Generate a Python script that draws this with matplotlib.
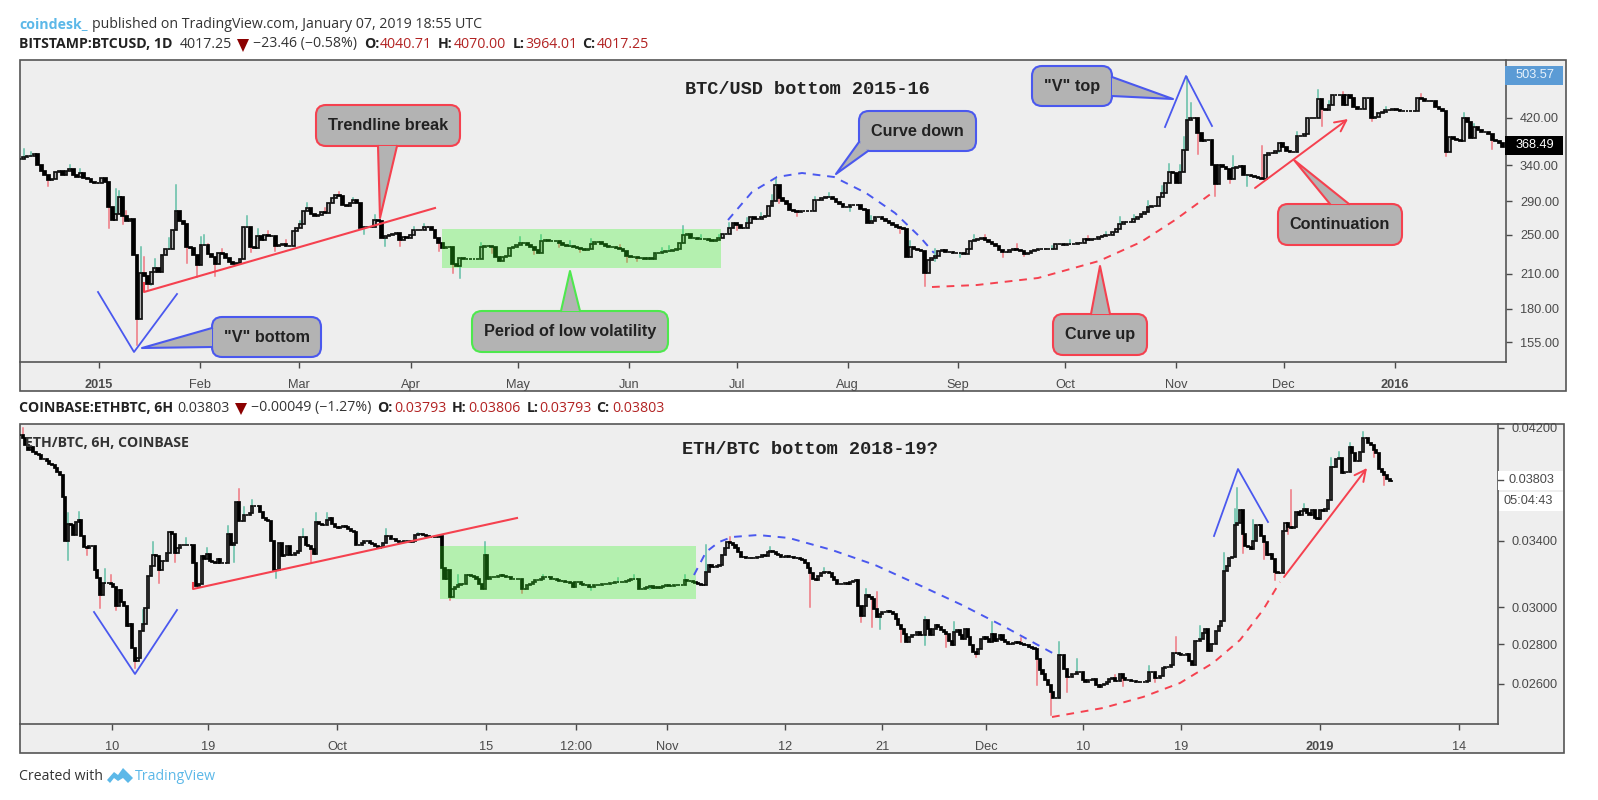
import numpy as np
import matplotlib
matplotlib.use("Agg")
import matplotlib.pyplot as plt
from matplotlib.patches import FancyBboxPatch, Polygon, Rectangle
from matplotlib.ticker import NullLocator

plt.rcParams['font.family'] = ['Open Sans', 'DejaVu Sans']

W, H = 1598, 800

# BTC/USD daily closes, Dec 2014 - Jan 2016 (each bar opens at the previous close)
btc_close = [
    349, 352, 355, 355, 357, 340, 332, 325, 318, 320,
    330, 331, 326, 332, 334, 326, 323, 329, 322, 320,
    316, 315, 314, 322, 316, 283, 267, 274, 296, 272,
    266, 268, 228, 172, 211, 208, 201, 212, 216, 212,
    228, 235, 235, 255, 277, 265, 262, 237, 236, 228,
    218, 239, 239, 229, 226, 219, 230, 229, 225, 221,
    219, 220, 224, 258, 259, 237, 236, 248, 244, 249,
    248, 248, 238, 239, 240, 238, 238, 254, 257, 262,
    277, 281, 274, 272, 273, 276, 275, 288, 294, 298,
    297, 285, 284, 287, 291, 287, 257, 258, 258, 259,
    267, 266, 246, 248, 250, 251, 252, 244, 247, 246,
    250, 255, 255, 255, 259, 258, 255, 246, 241, 236,
    237, 237, 219, 217, 225, 224, 224, 224, 224, 224,
    237, 238, 238, 237, 226, 222, 226, 227, 236, 237,
    239, 241, 241, 239, 237, 233, 230, 243, 244, 243,
    243, 243, 241, 239, 238, 238, 237, 236, 234, 233,
    235, 240, 242, 242, 240, 238, 237, 237, 236, 235,
    232, 227, 226, 226, 225, 225, 224, 225, 224, 230,
    230, 231, 232, 232, 233, 235, 241, 250, 251, 246,
    246, 245, 245, 245, 244, 243, 244, 246, 251, 251,
    257, 263, 261, 257, 257, 263, 270, 268, 268, 270,
    271, 284, 290, 311, 294, 290, 286, 279, 277, 276,
    277, 277, 277, 277, 291, 291, 294, 296, 296, 293,
    289, 286, 283, 283, 285, 285, 285, 280, 279, 263,
    265, 270, 270, 268, 265, 263, 261, 258, 257, 256,
    226, 237, 235, 233, 232, 211, 223, 225, 227, 232,
    233, 231, 231, 230, 230, 230, 229, 235, 243, 244,
    245, 246, 244, 242, 240, 238, 233, 231, 231, 233,
    235, 233, 232, 229, 230, 232, 233, 234, 235, 234,
    234, 234, 240, 240, 239, 240, 240, 240, 241, 241,
    245, 244, 245, 245, 247, 248, 249, 250, 253, 256,
    262, 264, 264, 264, 268, 270, 274, 276, 282, 284,
    284, 295, 301, 314, 330, 328, 314, 330, 364, 415,
    419, 419, 393, 378, 381, 381, 340, 313, 340, 338,
    335, 320, 336, 338, 339, 325, 325, 324, 323, 322,
    320, 356, 359, 359, 362, 376, 368, 362, 361, 361,
    388, 388, 391, 419, 419, 419, 456, 436, 434, 444,
    464, 464, 464, 444, 464, 458, 441, 436, 437, 458,
    458, 419, 422, 428, 431, 434, 434, 436, 434, 433,
    433, 433, 433, 433, 458, 456, 453, 453, 452, 441,
    436, 433, 360, 386, 382, 380, 379, 419, 412, 384,
    403, 397, 394, 394, 391, 380, 378, 376, 368.49,
]
btc_high = {
    1: 366, 3: 360, 14: 340, 17: 335, 27: 306, 28: 304, 30: 277, 34: 237,
    35: 226, 38: 224, 42: 246, 44: 312, 47: 252, 51: 247, 52: 249, 53: 240,
    57: 235, 64: 272, 67: 256, 70: 254, 75: 244, 79: 265, 81: 288, 86: 281,
    90: 302, 94: 294, 100: 273, 111: 258, 114: 262, 122: 229, 130: 241,
    141: 247, 147: 249, 155: 243, 161: 245, 169: 239, 181: 236, 183: 238,
    187: 260, 192: 250, 197: 250, 200: 263, 205: 269, 209: 275, 212: 298,
    213: 320, 224: 296, 228: 300, 240: 272, 251: 243, 258: 235, 269: 250,
    272: 249, 281: 240, 291: 238, 296: 244, 301: 248, 306: 253, 310: 270,
    314: 273, 318: 290, 322: 310, 324: 342, 327: 340, 328: 385, 329: 503.57,
    330: 448, 332: 405, 337: 340, 342: 355, 350: 370, 360: 395, 366: 474,
    369: 452, 373: 470, 376: 448, 385: 440, 395: 466, 407: 428, 410: 408,
}
btc_low = {
    8: 310, 25: 257, 29: 262, 33: 153, 36: 196, 37: 200, 47: 220, 50: 207,
    55: 208, 65: 231, 72: 232, 97: 251, 103: 238, 107: 238, 118: 232, 122: 211,
    124: 206, 133: 230, 145: 229, 152: 237, 158: 231, 171: 221, 174: 222,
    187: 243, 202: 255, 214: 288, 219: 272, 234: 278, 248: 252, 255: 199,
    258: 222, 265: 226, 277: 226, 283: 227, 332: 357, 337: 297, 341: 315,
    346: 310, 355: 360, 367: 404, 381: 413, 402: 354, 415: 366,
}
btc_yticks = [155, 180, 210, 250, 290, 340, 420]
btc_xticks = [22.3, 50.7, 78.7, 110.1, 140.4, 171.8, 202, 233.3, 264.4, 294.7, 325.9, 356.2, 387.5]
btc_xlabels = ['2015', 'Feb', 'Mar', 'Apr', 'May', 'Jun', 'Jul', 'Aug', 'Sep', 'Oct', 'Nov', 'Dec', '2016']

# ETH/BTC 6H closes, Sep 2018 - Jan 2019
eth_close = [
    .04142, .04116, .04066, .04027, .04052, .04014, .04001, .03989, .03963, .03963,
    .03945, .03925, .03920, .03895, .03867, .03845, .03692, .03400, .03510, .03503,
    .03435, .03522, .03534, .03430, .03358, .03352, .03367, .03367, .03220, .03170,
    .03070, .03140, .03140, .03140, .03134, .03118, .03010, .03100, .03030, .03010,
    .02897, .02910, .02782, .02712, .02728, .02872, .02907, .02998, .03180, .03243,
    .03312, .03305, .03220, .03272, .03272, .03324, .03452, .03441, .03324, .03355,
    .03369, .03369, .03373, .03375, .03375, .03262, .03122, .03134, .03305, .03283,
    .03316, .03272, .03268, .03262, .03283, .03262, .03262, .03262, .03441, .03375,
    .03385, .03652, .03526, .03526, .03570, .03570, .03578, .03624, .03630, .03630,
    .03585, .03550, .03532, .03526, .03400, .03220, .03220, .03385, .03305, .03310,
    .03367, .03310, .03310, .03324, .03335, .03421, .03421, .03375, .03367, .03345,
    .03318, .03522, .03510, .03499, .03499, .03533, .03545, .03510, .03489, .03478,
    .03489, .03495, .03489, .03472, .03459, .03452, .03375, .03375, .03385, .03400,
    .03400, .03385, .03380, .03367, .03352, .03358, .03385, .03430, .03430, .03413,
    .03410, .03400, .03392, .03392, .03400, .03400, .03392, .03400, .03436, .03441,
    .03441, .03436, .03430, .03422, .03422, .03420, .03421, .03430, .03230, .03167,
    .03218, .03058, .03107, .03117, .03127, .03133, .03137, .03190, .03186, .03180,
    .03173, .03167, .03137, .03107, .03309, .03167, .03173, .03176, .03176, .03180,
    .03186, .03182, .03176, .03176, .03167, .03167, .03167, .03167, .03107, .03107,
    .03127, .03137, .03146, .03156, .03156, .03167, .03173, .03176, .03173, .03167,
    .03162, .03156, .03152, .03150, .03146, .03146, .03141, .03117, .03146, .03146,
    .03137, .03131, .03127, .03117, .03117, .03127, .03127, .03131, .03137, .03137,
    .03137, .03141, .03142, .03146, .03146, .03146, .03146, .03152, .03156, .03162,
    .03167, .03167, .03107, .03107, .03111, .03117, .03121, .03111, .03117, .03111,
    .03117, .03121, .03127, .03123, .03123, .03127, .03127, .03127, .03127, .03156,
    .03152, .03150, .03146, .03142, .03133, .03131, .03127, .03207, .03247, .03237,
    .03237, .03243, .03247, .03309, .03351, .03394, .03384, .03369, .03351, .03330,
    .03299, .03299, .03293, .03293, .03289, .03293, .03295, .03299, .03309, .03305,
    .03330, .03334, .03326, .03313, .03309, .03299, .03299, .03301, .03299, .03299,
    .03293, .03289, .03285, .03279, .03259, .03228, .03197, .03167, .03156, .03182,
    .03197, .03207, .03207, .03197, .03176, .03156, .03137, .03137, .03137, .03141,
    .03137, .03146, .03152, .03156, .03010, .02955, .03010, .03069, .03058, .03048,
    .02993, .02946, .02964, .02973, .02973, .02982, .02973, .02964, .02937, .02901,
    .02883, .02856, .02812, .02838, .02847, .02847, .02865, .02847, .02847, .02928,
    .02883, .02847, .02883, .02901, .02892, .02874, .02865, .02856, .02820, .02795,
    .02865, .02874, .02847, .02829, .02883, .02838, .02795, .02760, .02752, .02777,
    .02829, .02838, .02829, .02812, .02856, .02820, .02829, .02847, .02825, .02812,
    .02803, .02803, .02807, .02812, .02808, .02803, .02798, .02795, .02786, .02780,
    .02777, .02726, .02667, .02650, .02618, .02594, .02562, .02531, .02531, .02743,
    .02743, .02675, .02634, .02634, .02650, .02650, .02658, .02658, .02618, .02610,
    .02618, .02618, .02626, .02594, .02586, .02594, .02600, .02607, .02622, .02631,
    .02613, .02613, .02650, .02631, .02618, .02618, .02613, .02613, .02610, .02607,
    .02607, .02607, .02613, .02659, .02659, .02631, .02631, .02640, .02677, .02686,
    .02686, .02692, .02757, .02753, .02750, .02743, .02743, .02750, .02712, .02696,
    .02818, .02818, .02826, .02858, .02880, .02767, .02800, .02800, .02870, .02895,
    .02925, .03210, .03240, .03290, .03300, .03503, .03512, .03600, .03440, .03368,
    .03358, .03348, .03400, .03503, .03500, .03430, .03392, .03310, .03315, .03284,
    .03204, .03198, .03198, .03464, .03512, .03490, .03480, .03490, .03590, .03568,
    .03595, .03610, .03580, .03568, .03600, .03546, .03542, .03600, .03595, .03606,
    .03670, .03903, .03903, .03960, .03967, .03860, .03866, .03866, .04054, .04003,
    .03943, .03943, .04010, .04118, .04118, .04080, .04065, .04027, .04003, .03890,
    .03863, .03843, .03815, .03803, .03803,
]
eth_high = {
    1: .04195, 18: .03580, 22: .03590, 32: .03225, 34: .03185, 46: .02984,
    50: .03389, 62: .03415, 70: .03355, 78: .03495, 82: .03745, 84: .03620,
    87: .03665, 106: .03475, 111: .03580, 115: .03580, 137: .03475, 149: .03450,
    164: .03186, 174: .03394, 196: .03190, 224: .03170, 230: .03190, 249: .03185,
    257: .03371, 266: .03420, 281: .03360, 301: .03230, 317: .03107, 321: .03087,
    339: .02946, 350: .02920, 364: .02919, 375: .02835, 389: .02812, 396: .02726,
    410: .02645, 423: .02690, 433: .02840, 442: .02895, 451: .03320, 455: .03610,
    456: .03750, 462: .03535, 476: .03735, 481: .03640, 491: .03965, 494: .04015,
    498: .04080, 503: .04170,
}
eth_low = {
    18: .03280, 25: .03310, 30: .02996, 36: .02985, 43: .02680, 52: .03140,
    58: .03265, 80: .03265, 96: .03170, 109: .03265, 161: .03040, 174: .03107,
    188: .03085, 214: .03100, 236: .03105, 296: .03003, 315: .02919, 319: .02890,
    322: .02883, 330: .02812, 339: .02795, 347: .02786, 358: .02735, 381: .02594,
    386: .02451, 392: .02562, 413: .02592, 425: .02610, 458: .03320, 466: .03284,
    470: .03160, 475: .03440, 507: .03975, 511: .03770,
}
eth_yticks = [.026, .028, .03, .034, .042]
eth_xticks = [34.5, 70.4, 118.7, 174.5, 208.2, 242.3, 286.6, 322.9, 361.8, 398.1, 434.8, 486.9, 539]
eth_xlabels = ['10', '19', 'Oct', '15', '12:00', 'Nov', '12', '21', 'Dec', '10', '19', '2019', '14']

UP_WICK = '#62bfa6'
DOWN_WICK = '#ef7680'
GRID_BG = '#eeeeee'
LABEL = '#4a4a4a'
RED = '#f5414f'
BLUE = '#4a58ee'
GREEN = '#4ee84e'
TAG_FONT = 'Liberation Sans'


def px_axes(left, top, right, bottom, zorder):
    return fig.add_axes([left / W, 1 - bottom / H, (right - left) / W, (bottom - top) / H], zorder=zorder)


def candles(ax, close, high, low, width, lw):
    close = np.asarray(close, dtype=float)
    opens = np.r_[close[0], close[:-1]]
    x = np.arange(len(close))
    up = close >= opens
    # wicks first so the bodies sit on them
    for i, hi in high.items():
        ax.plot([i, i], [max(opens[i], close[i]), hi], color=UP_WICK if up[i] else DOWN_WICK, lw=1.1, zorder=2)
    for i, lo in low.items():
        ax.plot([i, i], [lo, min(opens[i], close[i])], color=UP_WICK if up[i] else DOWN_WICK, lw=1.1, zorder=2)
    ax.bar(x[up], (close - opens)[up], bottom=opens[up], width=width, color='#b4b4b4',
           edgecolor='#111111', linewidth=lw, zorder=3)
    ax.bar(x[~up], (opens - close)[~up], bottom=close[~up], width=width, color='black',
           edgecolor='black', linewidth=lw, zorder=3)


def style_axes(ax, xlim, ylim, xticks, xlabels, yticks, bold, fmt):
    ax.set_facecolor('none')
    ax.set_yscale('log')
    ax.set_xlim(*xlim)
    ax.set_ylim(*ylim)
    ax.yaxis.tick_right()
    ax.set_yticks(yticks)
    ax.set_yticklabels([fmt % v for v in yticks])
    ax.yaxis.set_minor_locator(NullLocator())
    ax.set_xticks(xticks)
    ax.set_xticklabels(xlabels)
    ax.tick_params(axis='both', colors=LABEL, labelsize=9.2, length=4, width=1, pad=6)
    ax.tick_params(axis='x', pad=8)
    for lab in ax.get_xticklabels() + ax.get_yticklabels():
        lab.set_family(TAG_FONT)
        if lab.get_text() in bold:
            lab.set_fontweight('bold')
    ax.spines['top'].set_visible(False)
    ax.spines['left'].set_visible(False)
    for side in ['bottom', 'right']:
        ax.spines[side].set_color('#555555')
        ax.spines[side].set_linewidth(1.2)


def callout(box, base_a, tip, base_b, label, color):
    x0, y0, x1, y1 = box
    r = 10
    ann.add_patch(FancyBboxPatch((x0 + r, y0 + r), x1 - x0 - 2 * r, y1 - y0 - 2 * r,
                                 boxstyle='round,pad=%d,rounding_size=%d' % (r, r),
                                 fc='#b3b3b3', ec=color, lw=1.5, zorder=5))
    ann.add_patch(Polygon([base_a, tip, base_b], fc='#b3b3b3', ec='none', zorder=6))
    ann.plot([base_a[0], tip[0], base_b[0]], [base_a[1], tip[1], base_b[1]], color=color, lw=1.5, zorder=7)
    ann.text((x0 + x1) / 2, (y0 + y1) / 2, label, ha='center', va='center', fontsize=11.7,
             fontweight='bold', family=TAG_FONT, color='#222222', zorder=8)


def dashed(points, color):
    xs, ys = zip(*points)
    ann.plot(xs, ys, color=color, lw=1.4, ls=(0, (4, 3.5)), zorder=4)


def header(y, parts):
    for x, s, color, weight in parts:
        bg.text(x, y, s, color=color, fontweight=weight, fontsize=10.2, va='center', ha='left')


fig = plt.figure(figsize=(W / 100, H / 100), dpi=100, facecolor='white')

bg = px_axes(0, 0, W, H, 0)
bg.set_xlim(0, W)
bg.set_ylim(H, 0)
bg.axis('off')
bg.add_patch(Rectangle((20, 60), 1546, 331, fc=GRID_BG, ec='#555555', lw=1.2))
bg.add_patch(Rectangle((20, 424), 1544, 329, fc=GRID_BG, ec='#555555', lw=1.2))

ax1 = px_axes(20, 60, 1506, 362, 1)
candles(ax1, btc_close, btc_high, btc_low, 0.78, 1.25)
style_axes(ax1, (0, 418.9), (142, 542.6), btc_xticks, btc_xlabels, btc_yticks, ['2015', '2016'], '%.2f')

ax2 = px_axes(20, 424, 1498, 724, 1)
candles(ax2, eth_close, eth_high, eth_low, 0.78, 1.25)
style_axes(ax2, (0, 553.6), (.02412, .04229), eth_xticks, eth_xlabels, eth_yticks, ['2019'], '%.5f')

ann = px_axes(0, 0, W, H, 2)
ann.set_xlim(0, W)
ann.set_ylim(H, 0)
ann.axis('off')

# header lines
bg.text(19, 24, 'coindesk_', color='#5cb8e8', fontweight='bold', fontsize=10.2, va='center')
bg.text(92, 24, 'published on TradingView.com, January 07, 2019 18:55 UTC', color='#333333', fontsize=10.2, va='center')
header(44, [(19, 'BITSTAMP:BTCUSD, 1D', '#222222', 'bold'), (180, '4017.25', '#333333', 'normal'),
            (253, '−23.46 (−0.58%)', '#333333', 'normal'), (364, 'O:', '#222222', 'bold'),
            (380, '4040.71', '#b22222', 'normal'), (438, 'H:', '#222222', 'bold'),
            (454, '4070.00', '#b22222', 'normal'), (513, 'L:', '#222222', 'bold'),
            (525, '3964.01', '#b22222', 'normal'), (582, 'C:', '#222222', 'bold'),
            (597, '4017.25', '#b22222', 'normal')])
header(408, [(19, 'COINBASE:ETHBTC, 6H', '#222222', 'bold'), (177, '0.03803', '#333333', 'normal'),
             (251, '−0.00049 (−1.27%)', '#333333', 'normal'), (377, 'O:', '#222222', 'bold'),
             (394, '0.03793', '#b22222', 'normal'), (452, 'H:', '#222222', 'bold'),
             (468, '0.03806', '#b22222', 'normal'), (527, 'L:', '#222222', 'bold'),
             (539, '0.03793', '#b22222', 'normal'), (596, 'C:', '#222222', 'bold'),
             (612, '0.03803', '#b22222', 'normal')])
bg.add_patch(Polygon([(237, 39), (249, 39), (243, 52)], fc='#8b0000', ec='none'))
bg.add_patch(Polygon([(235, 403), (247, 403), (241, 415)], fc='#8b0000', ec='none'))

# titles inside the panels
ann.text(807, 89, 'BTC/USD bottom 2015-16', family='Liberation Mono', fontweight='bold', fontsize=13.4,
         color='#222222', ha='center', va='center')
ann.text(810, 450, 'ETH/BTC bottom 2018-19?', family='Liberation Mono', fontweight='bold', fontsize=13.4,
         color='#222222', ha='center', va='center')
ann.text(25, 443, 'ETH/BTC, 6H, COINBASE', fontweight='bold', fontsize=10.2, color='#333333', va='center')

# price tags on the right hand scale
ann.add_patch(Rectangle((1505, 66), 58, 19, fc='#5b9bd5', ec='none'))
ann.text(1535, 75.5, '503.57', color='#e8f2fb', family=TAG_FONT, fontsize=9.2, ha='center', va='center')
ann.add_patch(Rectangle((1505, 136), 58, 19, fc='black', ec='none'))
ann.text(1535, 145.5, '368.49', color='white', family=TAG_FONT, fontsize=9.2, ha='center', va='center')
ann.add_patch(Rectangle((1498, 471), 65, 19, fc='white', ec='none'))
ann.plot([1498, 1503], [480, 480], color=LABEL, lw=1)
ann.text(1531, 480, '0.03803', color=LABEL, family=TAG_FONT, fontsize=9.2, ha='center', va='center')
ann.add_patch(Rectangle((1499, 492), 64, 19, fc='white', ec='none'))
ann.text(1528, 501.5, '05:04:43', color=LABEL, family=TAG_FONT, fontsize=9.2, ha='center', va='center')

# drawings on the BTC panel
ann.add_patch(Rectangle((442, 229), 279, 39, fc=(48 / 255, 245 / 255, 31 / 255, 0.3), ec='none', zorder=3))
ann.plot([98, 134, 177], [292, 352, 294], color=BLUE, lw=1.3, zorder=4)
ann.plot([144, 144, 435], [283, 292, 208], color=RED, lw=1.5, zorder=4)
ann.plot([1165, 1186, 1212], [127, 76, 126], color=BLUE, lw=1.3, zorder=4)
dashed([(728, 220), (752, 192), (777, 177), (802, 173), (834, 177), (866, 193), (895, 213), (920, 237), (934, 253)], BLUE)
dashed([(932, 287), (977, 285), (1038, 278), (1099, 261), (1141, 242), (1175, 220), (1212, 193)], RED)
ann.annotate('', xy=(1348, 119), xytext=(1255, 188), arrowprops=dict(arrowstyle='->', color=RED, lw=1.4, mutation_scale=20, shrinkA=0, shrinkB=0))

callout((316, 105, 460, 146), (378, 146), (380, 218), (397, 146), 'Trendline break', RED)
callout((212, 317, 321, 357), (212, 328), (142, 348), (212, 347), '"V" bottom', BLUE)
callout((472, 311, 668, 352), (561, 311), (570, 271), (580, 311), 'Period of low volatility', GREEN)
callout((859, 111, 976, 151), (859, 142), (836, 174), (868, 151), 'Curve down', BLUE)
callout((1032, 66, 1112, 106), (1112, 77), (1173, 99), (1112, 96), '"V" top', BLUE)
callout((1278, 204, 1402, 245), (1330, 204), (1294, 160), (1349, 204), 'Continuation', RED)
callout((1053, 314, 1147, 355), (1091, 314), (1100, 266), (1110, 314), 'Curve up', RED)

# drawings on the ETH panel
ann.add_patch(Rectangle((439.5, 546), 256, 53, fc=(48 / 255, 245 / 255, 31 / 255, 0.3), ec='none', zorder=3))
ann.plot([94, 135, 177], [612, 674, 610], color=BLUE, lw=1.3, zorder=4)
ann.plot([193, 193, 517], [583, 589, 518], color=RED, lw=1.5, zorder=4)
ann.plot([1214, 1238, 1268], [536, 469, 522], color=BLUE, lw=1.3, zorder=4)
dashed([(694, 575), (706, 552), (719, 542), (732, 537), (758, 535), (789, 538), (832, 550), (875, 565), (919, 585),
        (962, 605), (1005, 627), (1058, 656)], BLUE)
dashed([(1052, 717), (1103, 708), (1143, 697), (1180, 683), (1213, 663), (1240, 640), (1263, 610), (1280, 582)], RED)
ann.annotate('', xy=(1367, 468), xytext=(1284, 577), arrowprops=dict(arrowstyle='->', color=RED, lw=1.4, mutation_scale=20, shrinkA=0, shrinkB=0))

# footer
bg.text(19, 776, 'Created with', color='#333333', fontsize=10.2, va='center')
bg.add_patch(Polygon([(107, 780), (114, 772), (118, 775), (123, 768), (133, 778), (128, 783), (123, 778), (118, 781), (114, 778), (110, 783)],
                     fc='#5cb8e8', ec='none'))
bg.text(135, 776, 'TradingView', color='#5cb8e8', fontsize=10.2, va='center')

fig.savefig('out.png', dpi=100)
